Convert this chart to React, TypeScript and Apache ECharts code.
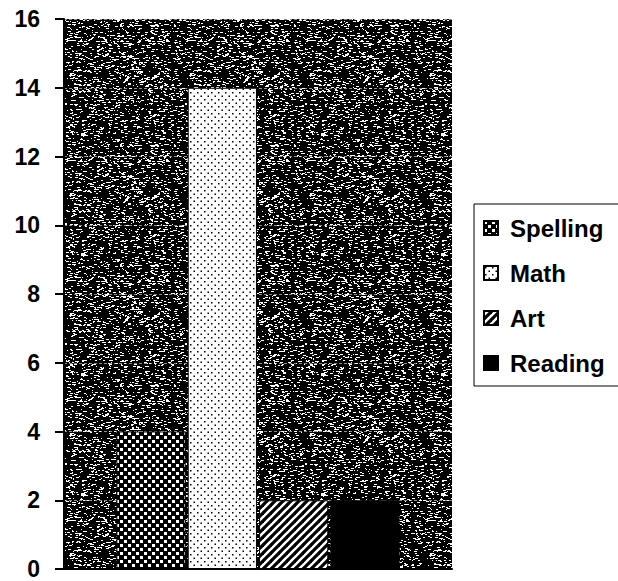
import React, { useEffect, useRef } from "react";
import * as echarts from "echarts";

const categories = [""];
const seriesNames = ["Spelling", "Math", "Art", "Reading"];
const seriesValues = [4, 14, 2, 2];
const yTicks = [0, 2, 4, 6, 8, 10, 12, 14, 16];

function hash(x: number, y: number, s: number) {
  const v = Math.sin(x * 12.9898 + y * 78.233 + s * 37.719) * 43758.5453;
  return v - Math.floor(v);
}

function makeCanvas(w: number, h: number, draw: (c: CanvasRenderingContext2D) => void) {
  const cv = document.createElement("canvas");
  cv.width = w;
  cv.height = h;
  const c = cv.getContext("2d")!;
  draw(c);
  return cv;
}

function noiseTile() {
  return makeCanvas(120, 120, (c) => {
    c.fillStyle = "#000";
    c.fillRect(0, 0, 120, 120);
    c.fillStyle = "#fff";
    for (let y = 0; y < 120; y++) {
      for (let x = 0; x < 120; x++) {
        const h = hash(x, y, 1);
        if (h > 0.9) {
          const len = 1 + Math.floor(hash(x, y, 2) * 3);
          c.fillRect(x, y, len, 1);
        }
      }
    }
  });
}

function checkerTile() {
  return makeCanvas(8, 8, (c) => {
    c.fillStyle = "#000";
    c.fillRect(0, 0, 8, 8);
    c.fillStyle = "#fff";
    c.fillRect(0, 0, 3, 3);
    c.fillRect(4, 4, 3, 3);
  });
}

function dotTile() {
  return makeCanvas(7, 7, (c) => {
    c.fillStyle = "#fff";
    c.fillRect(0, 0, 7, 7);
    c.fillStyle = "#000";
    c.fillRect(1, 1, 1.5, 1.5);
    c.fillRect(4.5, 4.5, 1.5, 1.5);
  });
}

function stripeTile() {
  return makeCanvas(8, 8, (c) => {
    c.fillStyle = "#fff";
    c.fillRect(0, 0, 8, 8);
    c.strokeStyle = "#000";
    c.lineWidth = 3.2;
    for (let k = -1; k <= 1; k++) {
      c.beginPath();
      c.moveTo(k * 8 - 1, 9);
      c.lineTo(k * 8 + 9, -1);
      c.stroke();
    }
  });
}

export default function App() {
  const ref = useRef<HTMLDivElement>(null);
  useEffect(() => {
    if (!ref.current) return;
    const chart = echarts.init(ref.current, undefined, { renderer: "svg" });
    const fills: any[] = [
      { image: checkerTile(), repeat: "repeat" },
      { image: dotTile(), repeat: "repeat" },
      { image: stripeTile(), repeat: "repeat" },
      "#000",
    ];
    const font = "'Liberation Sans', Arial, sans-serif";
    chart.setOption({
      animation: false,
      backgroundColor: "#fff",
      grid: {
        left: 64,
        right: 188,
        top: 19,
        bottom: 12,
        show: true,
        backgroundColor: { image: noiseTile(), repeat: "repeat" },
        borderWidth: 0,
      },
      legend: {
        orient: "vertical",
        left: 474,
        top: 204,
        data: seriesNames,
        icon: "rect",
        itemWidth: 14,
        itemHeight: 14,
        itemGap: 21,
        padding: [12, 30, 11, 9],
        borderColor: "#000",
        borderWidth: 1,
        backgroundColor: "#fff",
        textStyle: {
          fontFamily: font,
          fontWeight: "bold",
          fontSize: 24,
          color: "#000",
          lineHeight: 24,
          padding: [0, 0, 0, 7],
        },
      },
      xAxis: {
        type: "category",
        data: categories,
        axisLine: { lineStyle: { color: "#000", width: 2 } },
        axisTick: { show: false },
        axisLabel: { show: false },
      },
      yAxis: {
        type: "value",
        min: yTicks[0],
        max: yTicks[yTicks.length - 1],
        interval: 2,
        axisLine: { show: true, lineStyle: { color: "#000", width: 2 } },
        axisTick: { show: true, length: 9, lineStyle: { color: "#000", width: 2 } },
        axisLabel: {
          margin: 24,
          fontFamily: font,
          fontWeight: "bold",
          fontSize: 23,
          color: "#000",
        },
        splitLine: {
          show: true,
          lineStyle: { color: "rgba(255,255,255,0.55)", width: 1, type: [3, 2] },
        },
      },
      series: seriesNames.map((name, i) => ({
        name,
        type: "bar",
        data: [seriesValues[i]],
        barGap: "3%",
        barCategoryGap: "27%",
        itemStyle: { color: fills[i], borderColor: "#000", borderWidth: 1 },
      })),
    });
    return () => chart.dispose();
  }, []);
  return (
    <div
      style={{
        position: "absolute",
        left: 0,
        top: 0,
        width: 618,
        height: 581,
        overflow: "hidden",
      }}
    >
      <div ref={ref} style={{ width: 640, height: 581 }} />
    </div>
  );
}
